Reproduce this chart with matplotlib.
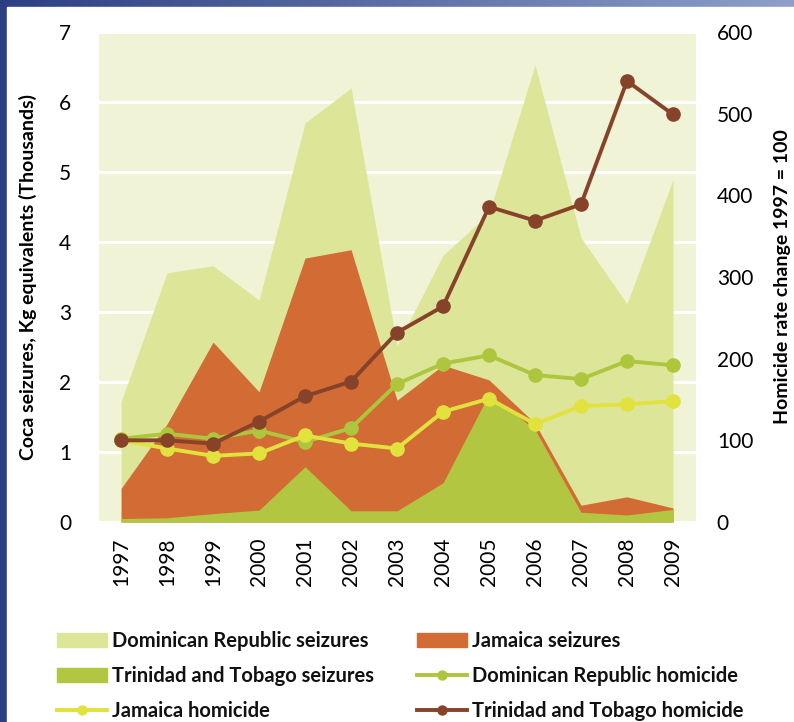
import matplotlib.pyplot as plt
from matplotlib import rcParams as rc
from matplotlib.patches import Patch, Rectangle
from matplotlib.lines import Line2D
from matplotlib.colors import LinearSegmentedColormap
import numpy as np

years = ['1997', '1998', '1999', '2000', '2001', '2002', '2003',
         '2004', '2005', '2006', '2007', '2008', '2009']

# seizures, kg equivalents (thousands)
dr_seizures = [1.72, 3.56, 3.66, 3.17, 5.70, 6.20, 2.52, 3.81, 4.41, 6.53, 4.06, 3.12, 4.89]
jam_seizures = [0.48, 1.40, 2.57, 1.86, 3.77, 3.89, 1.74, 2.24, 2.03, 1.41, 0.24, 0.36, 0.20]
tt_seizures = [0.05, 0.06, 0.12, 0.17, 0.79, 0.16, 0.16, 0.56, 1.83, 1.32, 0.14, 0.10, 0.18]

# homicide rate change, 1997 = 100
dr_homicide = [102, 108, 102, 112, 98, 115, 169, 194, 204, 180, 175, 197, 192]
jam_homicide = [100, 90, 81, 84, 106, 96, 90, 135, 151, 120, 142, 144, 148]
tt_homicide = [100, 100, 96, 123, 154, 172, 232, 264, 386, 369, 389, 540, 499]

c_bg = '#f0f3d5'
c_dr_area = '#dde698'
c_jam_area = '#d26b34'
c_tt_area = '#b3c641'
c_dr_line = '#aec63e'
c_jam_line = '#e2e23f'
c_tt_line = '#86432a'

rc['font.family'] = ['Lato', 'DejaVu Sans']
rc['text.color'] = '#111111'

fig = plt.figure(figsize=(7.94, 7.22), dpi=100)

# slide frame (blue strips on left and top)
bg = fig.add_axes([0, 0, 1, 1], zorder=-10)
bg.axis('off')
grad = np.linspace(0, 1, 256)
frame_cmap = LinearSegmentedColormap.from_list('frame', ['#2c3f82', '#8f9fca'])
bg.imshow(np.vstack([grad, grad]), cmap=frame_cmap, aspect='auto', extent=[0, 1, 0, 1])
bg.add_patch(Rectangle((7 / 794, 0), 1, 1 - 7 / 722, color='white', transform=bg.transAxes))
bg.set_xlim(0, 1)
bg.set_ylim(0, 1)

ax = fig.add_axes([99 / 794, 1 - 522 / 722, 597 / 794, 490 / 722])
x = np.arange(len(years))

ax.set_facecolor(c_bg)
ax.fill_between(x, 0, dr_seizures, color=c_dr_area, lw=0, zorder=2)
ax.fill_between(x, 0, jam_seizures, color=c_jam_area, lw=0, zorder=3)
ax.fill_between(x, 0, tt_seizures, color=c_tt_area, lw=0, zorder=4)

ax.set_xlim(-0.48, 12.5)
ax.set_ylim(0, 7)
ax.set_yticks(range(8))
ax.grid(axis='y', color='white', lw=2.2, zorder=1)
ax.set_axisbelow(True)
ax.set_xticks(x)
ax.set_xticklabels(years, rotation=90)
ax.tick_params(axis='both', length=0, labelsize=15)
ax.tick_params(axis='x', pad=11)
ax.tick_params(axis='y', pad=20)
for s in ax.spines.values():
    s.set_visible(False)
ax.set_ylabel('Coca seizures, Kg equivalents (Thousands)', fontsize=14, fontweight='bold', labelpad=16)

ax2 = ax.twinx()
ax2.plot(x, dr_homicide, color=c_dr_line, lw=2.8, marker='o', ms=9.5, zorder=5)
ax2.plot(x, jam_homicide, color=c_jam_line, lw=2.8, marker='o', ms=9.5, zorder=6)
ax2.plot(x, tt_homicide, color=c_tt_line, lw=2.8, marker='o', ms=9.5, zorder=7)
ax2.set_ylim(0, 600)
ax2.set_yticks(range(0, 601, 100))
ax2.tick_params(axis='y', length=0, labelsize=15, pad=15)
for s in ax2.spines.values():
    s.set_visible(False)
ax2.set_ylabel('Homicide rate change 1997 = 100', fontsize=14, fontweight='bold', labelpad=15)

# legend, filled column by column
handles = [
    Patch(color=c_dr_area, label='Dominican Republic seizures'),
    Patch(color=c_tt_area, label='Trinidad and Tobago seizures'),
    Line2D([], [], color=c_jam_line, lw=2.8, marker='o', ms=6.5, label='Jamaica homicide'),
    Patch(color=c_jam_area, label='Jamaica seizures'),
    Line2D([], [], color=c_dr_line, lw=2.8, marker='o', ms=6.5, label='Dominican Republic homicide'),
    Line2D([], [], color=c_tt_line, lw=2.8, marker='o', ms=6.5, label='Trinidad and Tobago homicide'),
]
fig.legend(handles=handles, loc='upper left', bbox_to_anchor=(57 / 794, 1 - 631 / 722),
           ncol=2, frameon=False, borderpad=0, borderaxespad=0,
           handlelength=2.5, handletextpad=0.25, columnspacing=2.1, labelspacing=0.74,
           prop={'weight': 'bold', 'size': 14.5})

plt.savefig('out.png', dpi=100)
